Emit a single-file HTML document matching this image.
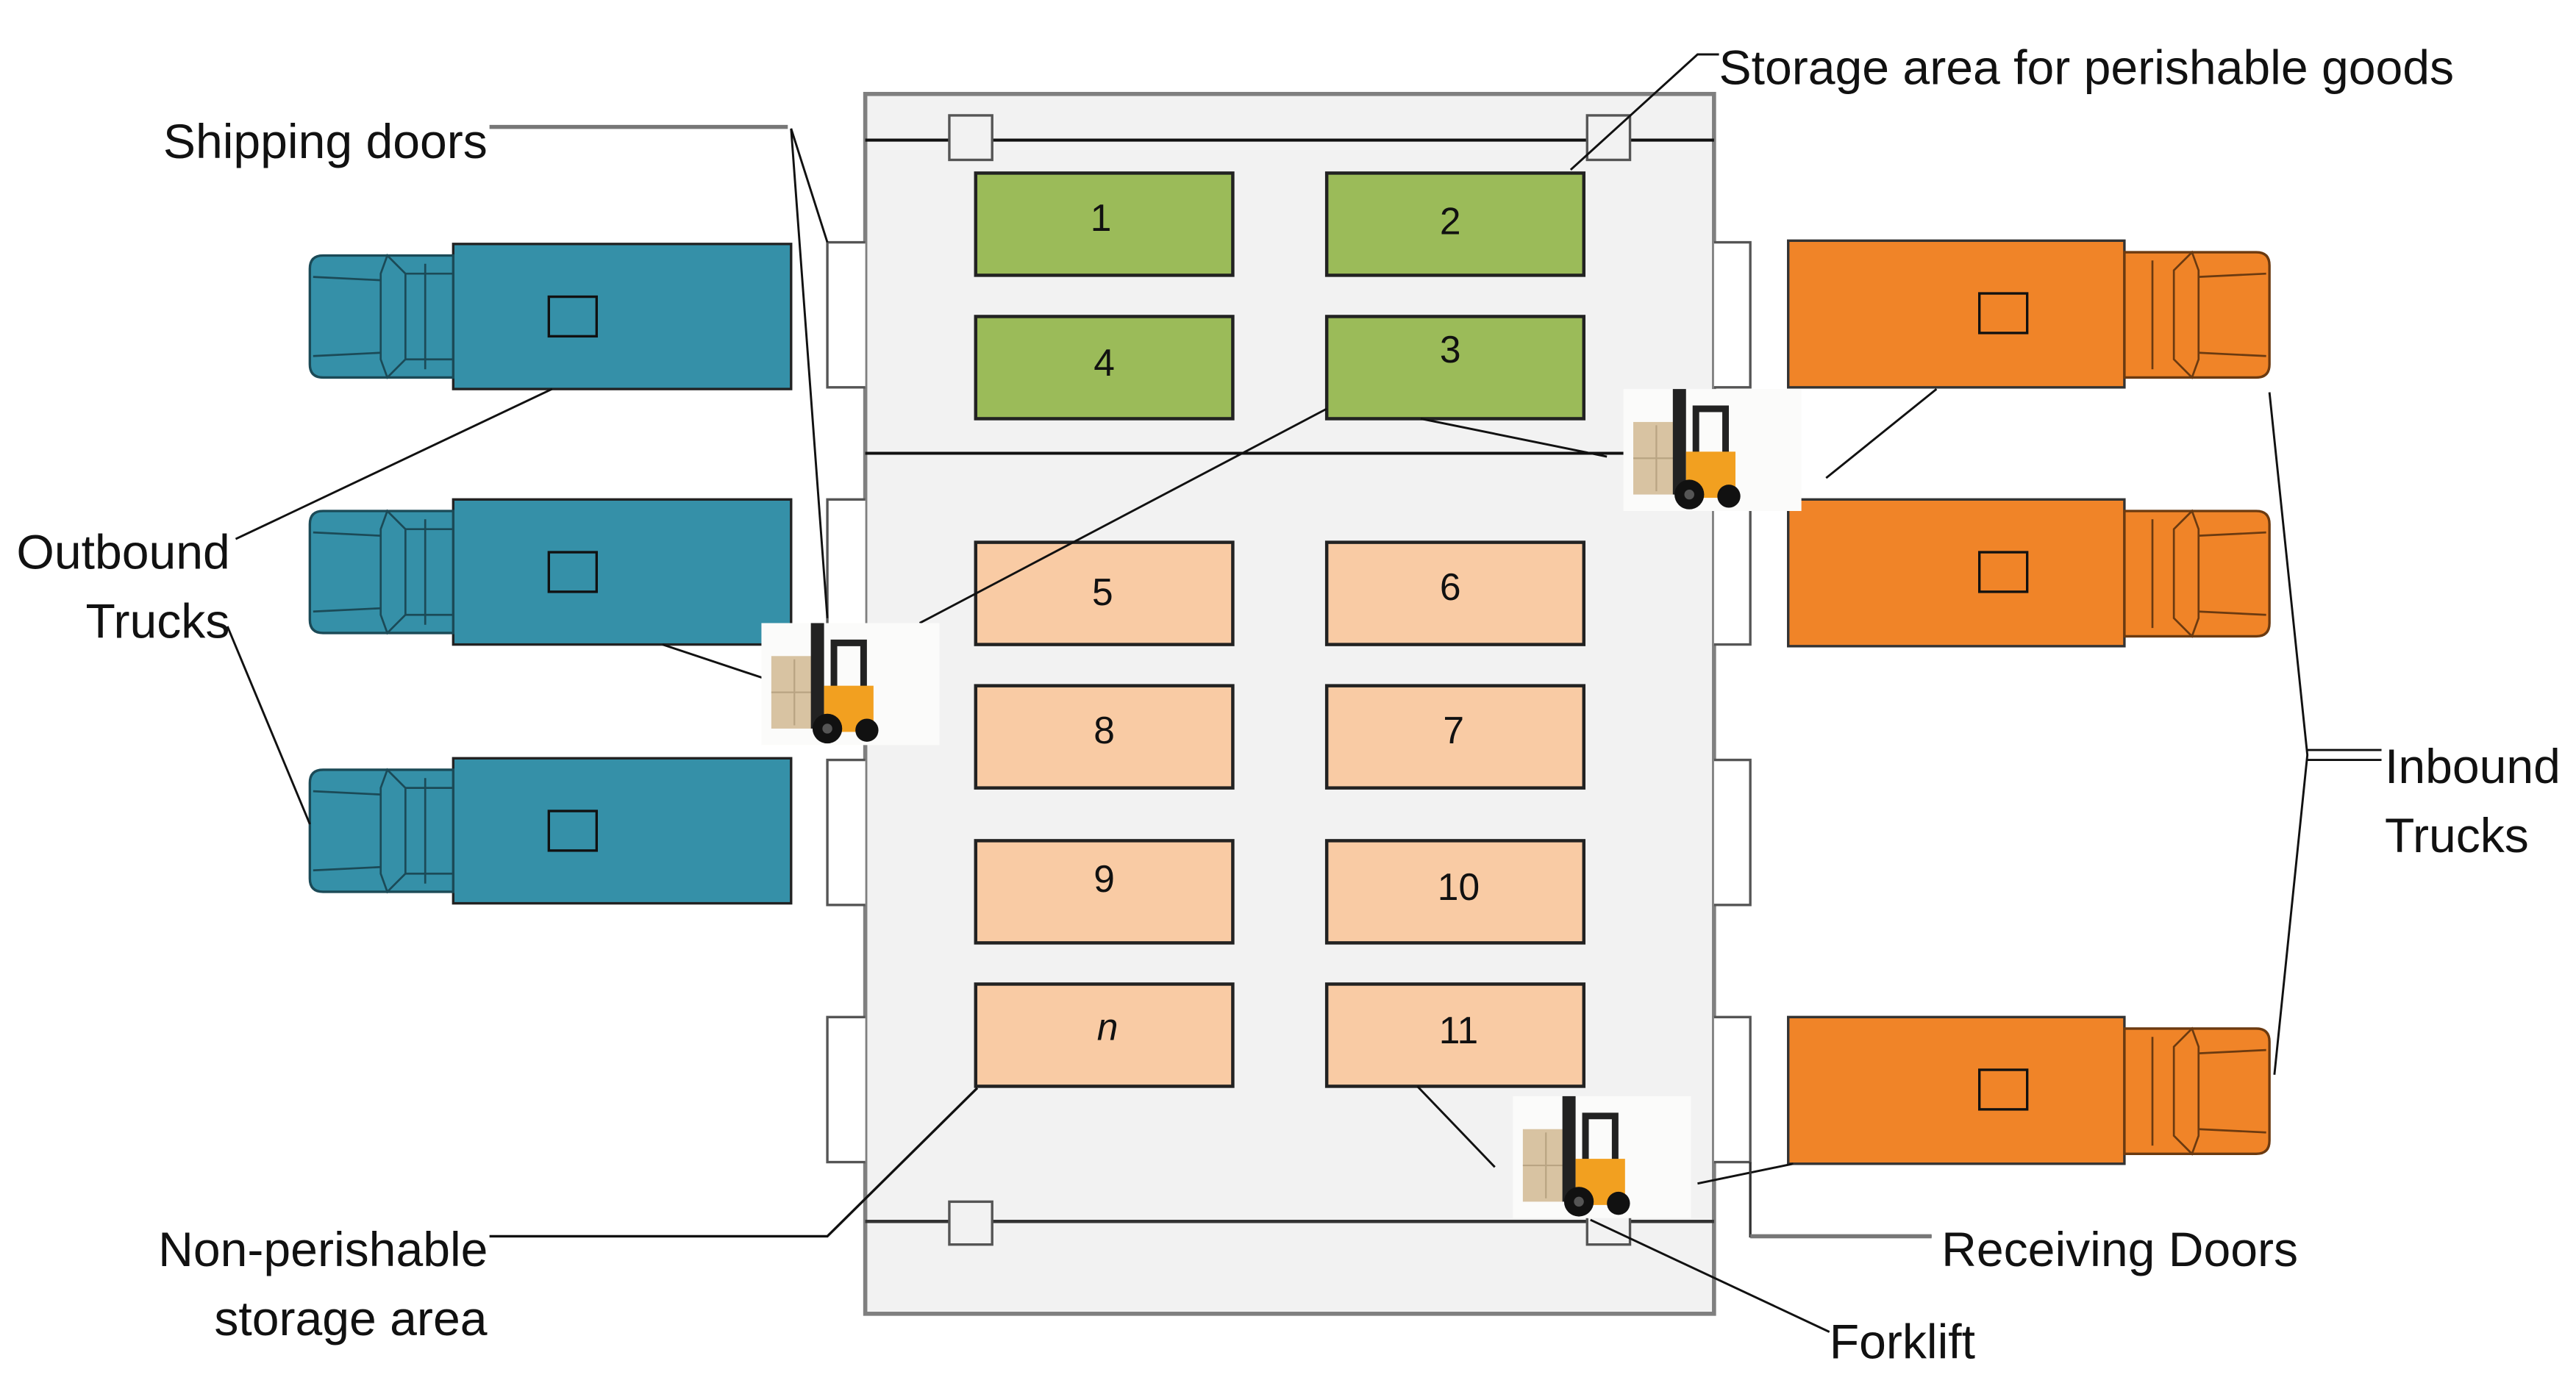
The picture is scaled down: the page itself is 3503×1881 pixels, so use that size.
<!DOCTYPE html>
<html><head><meta charset="utf-8"><style>
html,body{margin:0;padding:0;background:#fff;}
svg{display:block;}
text{font-family:"Liberation Sans",Arial,sans-serif;fill:#111;}
</style></head><body>
<svg width="3503" height="1881" viewBox="0 0 1563 839" preserveAspectRatio="none" xmlns="http://www.w3.org/2000/svg">
<defs>
<g id="bt">
  <rect x="87" y="0" width="205" height="88" fill="#3590a8" stroke="#222" stroke-width="1.5"/>
  <rect x="145" y="32" width="29" height="24" fill="none" stroke="#111" stroke-width="1.5"/>
  <path d="M8,7 H87 V81 H8 Q0,81 0,73 V15 Q0,7 8,7 Z" fill="#3590a8" stroke="#1b4a57" stroke-width="1.5"/>
  <path d="M47,7 L58,18 L58,70 L47,81 L43,70 L43,18 Z" fill="#3590a8" stroke="#1b4a57" stroke-width="1.2"/>
  <line x1="58" y1="18" x2="87" y2="18" stroke="#1b4a57" stroke-width="1.2"/>
  <line x1="58" y1="70" x2="87" y2="70" stroke="#1b4a57" stroke-width="1.2"/>
  <line x1="70" y1="12" x2="70" y2="76" stroke="#1b4a57" stroke-width="1.2"/>
  <line x1="2" y1="20" x2="43" y2="22" stroke="#1b4a57" stroke-width="1.2"/>
  <line x1="2" y1="68" x2="43" y2="66" stroke="#1b4a57" stroke-width="1.2"/>
</g>
<g id="fl">
  <rect x="0" y="0" width="108" height="74" fill="#fbfbfa"/>
  <rect x="6" y="20" width="30" height="44" fill="#d8c3a2"/>
  <line x1="20" y1="22" x2="20" y2="62" stroke="#b9a483" stroke-width="1"/>
  <line x1="6" y1="42" x2="36" y2="42" stroke="#b9a483" stroke-width="1"/>
  <rect x="30" y="0" width="8" height="64" fill="#222"/>
  <path d="M42,10 H64 V50 H60 V14 H46 V50 H42 Z" fill="#222"/>
  <rect x="38" y="38" width="30" height="28" fill="#f2a020"/>
  <circle cx="40" cy="64" r="9" fill="#111"/>
  <circle cx="40" cy="64" r="3" fill="#555"/>
  <circle cx="64" cy="65" r="7" fill="#111"/>
</g>
<g id="ot1">
  <rect x="1085" y="146" width="204" height="89" fill="#f08428" stroke="#333" stroke-width="1.5"/>
  <rect x="1201" y="178" width="29" height="24" fill="none" stroke="#111" stroke-width="1.5"/>
  <path d="M1289,153 H1369 Q1377,153 1377,161 V221 Q1377,229 1369,229 H1289 Z" fill="#f08428" stroke="#6b3a10" stroke-width="1.5"/>
  <path d="M1330,153 L1319,164 L1319,218 L1330,229 L1334,218 L1334,164 Z" fill="#f08428" stroke="#6b3a10" stroke-width="1.2"/>
  <line x1="1306" y1="158" x2="1306" y2="224" stroke="#6b3a10" stroke-width="1.2"/>
  <line x1="1334" y1="168" x2="1375" y2="166" stroke="#6b3a10" stroke-width="1.2"/>
  <line x1="1334" y1="214" x2="1375" y2="216" stroke="#6b3a10" stroke-width="1.2"/>
</g>
</defs>

<rect x="525" y="57" width="515" height="740" fill="#f2f2f2" stroke="#7f7f7f" stroke-width="2.5"/>
<line x1="525" y1="85" x2="1040" y2="85" stroke="#111" stroke-width="1.8"/>
<line x1="525" y1="275" x2="1040" y2="275" stroke="#111" stroke-width="1.8"/>
<line x1="525" y1="741" x2="1040" y2="741" stroke="#333" stroke-width="2"/>
<rect x="576" y="70" width="26" height="27" fill="#f2f2f2" stroke="#555" stroke-width="1.5"/>
<rect x="963" y="70" width="26" height="27" fill="#f2f2f2" stroke="#555" stroke-width="1.5"/>
<rect x="576" y="729" width="26" height="26" fill="#f2f2f2" stroke="#555" stroke-width="1.5"/>
<rect x="963" y="729" width="26" height="26" fill="#f2f2f2" stroke="#555" stroke-width="1.5"/>

<g fill="#fff" stroke="#555" stroke-width="1.5">
<path d="M525,147 H502 V235 H525"/><path d="M525,303 H502 V391 H525"/>
<path d="M525,461 H502 V549 H525"/><path d="M525,617 H502 V705 H525"/>
<path d="M1040,147 H1062 V235 H1040"/><path d="M1040,303 H1062 V391 H1040"/>
<path d="M1040,461 H1062 V549 H1040"/><path d="M1040,617 H1062 V705 H1040"/>
</g>

<g stroke="#222" stroke-width="2">
<rect x="592" y="105" width="156" height="62" fill="#9bbb59"/>
<rect x="805" y="105" width="156" height="62" fill="#9bbb59"/>
<rect x="592" y="192" width="156" height="62" fill="#9bbb59"/>
<rect x="805" y="192" width="156" height="62" fill="#9bbb59"/>
<rect x="592" y="329" width="156" height="62" fill="#f9cba4"/>
<rect x="805" y="329" width="156" height="62" fill="#f9cba4"/>
<rect x="592" y="416" width="156" height="62" fill="#f9cba4"/>
<rect x="805" y="416" width="156" height="62" fill="#f9cba4"/>
<rect x="592" y="510" width="156" height="62" fill="#f9cba4"/>
<rect x="805" y="510" width="156" height="62" fill="#f9cba4"/>
<rect x="592" y="597" width="156" height="62" fill="#f9cba4"/>
<rect x="805" y="597" width="156" height="62" fill="#f9cba4"/>
</g>
<g font-size="23" text-anchor="middle">
<text x="668" y="140">1</text><text x="880" y="142">2</text>
<text x="670" y="228">4</text><text x="880" y="220">3</text>
<text x="669" y="367">5</text><text x="880" y="364">6</text>
<text x="670" y="451">8</text><text x="882" y="451">7</text>
<text x="670" y="541">9</text><text x="885" y="546">10</text>
<text x="672" y="631" font-style="italic">n</text><text x="885" y="633">11</text>
</g>

<use href="#bt" x="188" y="148"/>
<use href="#bt" x="188" y="303"/>
<use href="#bt" x="188" y="460"/>
<use href="#ot1"/>
<use href="#ot1" y="157"/>
<use href="#ot1" y="471"/>

<g stroke="#111" stroke-width="1.3" fill="none">
<path d="M297,77 H478" stroke="#777" stroke-width="2.5"/>
<path d="M480,78 L502,147"/><path d="M480,78 L502,375"/>
<path d="M1043,33 H1030 L953,103"/>
<path d="M143,327 L335,236"/>
<path d="M138,380 L188,500"/>
<path d="M402,391 L468,413"/>
<path d="M805,248 L558,378"/>
<path d="M862,254 L975,277"/>
<path d="M1108,290 L1175,236"/>
<path d="M1377,238 L1400,458 L1380,652"/>
<path d="M1400,455 H1445 M1400,461 H1445"/>
<path d="M297,750 H502 L593,660" stroke-width="1.5"/>
<path d="M860,659 L907,708"/>
<path d="M1030,718 L1088,706"/>
<path d="M1110,808 L965,740"/>
<path d="M1062,705 V750 H1172" stroke="#333" stroke-width="1.5"/>
<path d="M1062,750 H1172" stroke="#777" stroke-width="2.5"/>
</g>

<use href="#fl" x="462" y="378"/>
<use href="#fl" x="985" y="236"/>
<use href="#fl" x="918" y="665"/>

<g font-size="29.5">
<text x="99" y="96">Shipping doors</text>
<text x="1043" y="51">Storage area for perishable goods</text>
<text x="10" y="345">Outbound</text>
<text x="52" y="387">Trucks</text>
<text x="1447" y="475">Inbound</text>
<text x="1447" y="517">Trucks</text>
<text x="96" y="768">Non-perishable</text>
<text x="130" y="810">storage area</text>
<text x="1178" y="768">Receiving Doors</text>
<text x="1110" y="824">Forklift</text>
</g>
</svg>
</body></html>
